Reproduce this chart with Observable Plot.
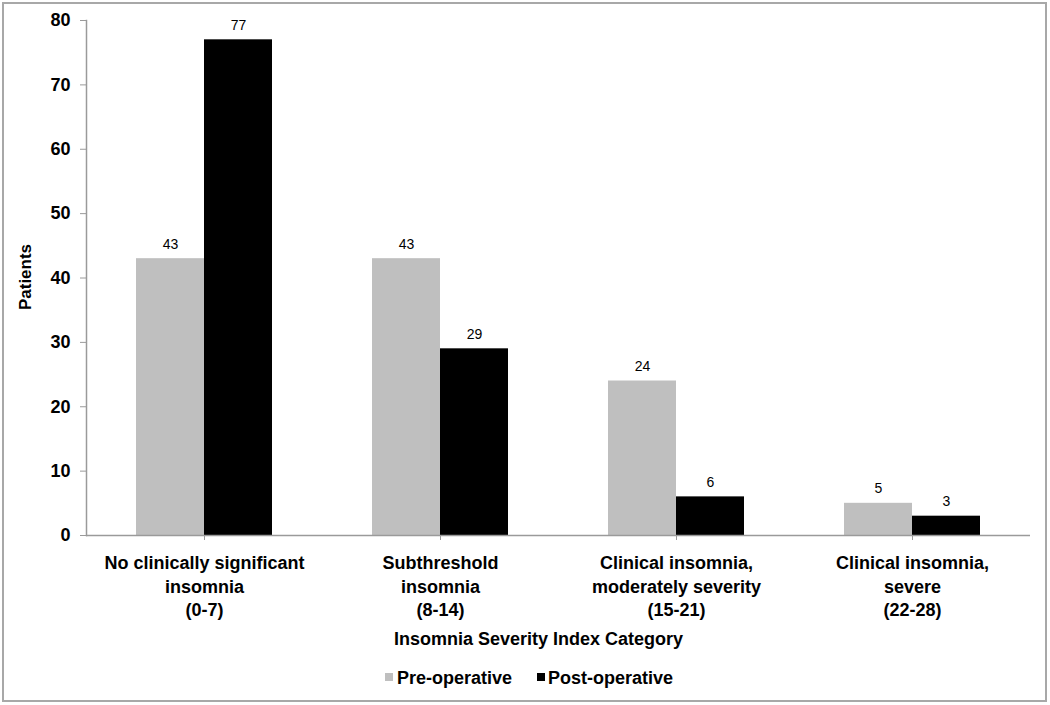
<!DOCTYPE html>
<html>
<head>
<meta charset="utf-8">
<script src="https://cdn.jsdelivr.net/npm/d3@7"></script>
<script src="https://cdn.jsdelivr.net/npm/@observablehq/plot@0.6"></script>
<style>
  html, body { margin: 0; padding: 0; background: #fff; }
  body { width: 1050px; height: 705px; position: relative; overflow: hidden;
         font-family: "Liberation Sans", Arial, sans-serif; }
  #frame { position: absolute; left: 2px; top: 2px; width: 1045px; height: 700px;
           box-sizing: border-box; border: 2px solid #a8a8a8; }
  #chart { position: absolute; left: 0; top: 0; }
  #ylabel { position: absolute; left: 26px; top: 277px; transform: translate(-50%, -50%) rotate(-90deg);
            font-weight: bold; font-size: 17px; white-space: nowrap; color: #000; }
  #xtitle { position: absolute; left: 394px; top: 629px; font-weight: bold; font-size: 18px; white-space: nowrap; }
  .lg { position: absolute; top: 668px; font-weight: bold; font-size: 18px; white-space: nowrap; line-height: 20px; }
  .sw { position: absolute; top: 673px; width: 8px; height: 8px; }
</style>
</head>
<body>
<div id="frame"></div>
<div id="chart"></div>
<div id="ylabel"></div>
<div id="xtitle"></div>
<div id="legend"></div>
<script>
// ---- data ----
const categories = ["No clinically significant", "Subthreshold", "Clinical insomnia, moderately", "Clinical insomnia, severe"];
const tickLabels = [
  "No clinically significant\ninsomnia\n(0-7)",
  "Subthreshold\ninsomnia\n(8-14)",
  "Clinical insomnia,\nmoderately severity\n(15-21)",
  "Clinical insomnia,\nsevere\n(22-28)"
];
const seriesNames = ["Pre-operative", "Post-operative"];
const preOperative = [43, 43, 24, 5];
const postOperative = [77, 29, 6, 3];
const yTicks = [0, 10, 20, 30, 40, 50, 60, 70, 80];
const seriesColors = ["#bfbfbf", "#000000"];
const yLabel = "Patients";
const xTitle = "Insomnia Severity Index Category";

// ---- build rows ----
const preRows = categories.map((c, i) => ({category: c, series: seriesNames[0], value: preOperative[i]}));
const postRows = categories.map((c, i) => ({category: c, series: seriesNames[1], value: postOperative[i]}));
const labelOf = new Map(categories.map((c, i) => [c, tickLabels[i]]));

const W = 1050, H = 620;
const mL = 86, mR = 20, mT = 20, mB = 85;
const bw = (W - mL - mR) / categories.length; // band width
const barW = 68;
const outer = bw / 2 - barW;

const chart = Plot.plot({
  width: W, height: H,
  marginLeft: mL, marginRight: mR, marginTop: mT, marginBottom: mB,
  style: {fontFamily: "'Liberation Sans', Arial, sans-serif", color: "#000", background: "transparent"},
  x: {domain: categories, padding: 0, label: null},
  y: {domain: [0, 80], label: null},
  marks: [
    Plot.barY(preRows, {x: "category", y: "value", fill: seriesColors[0], insetLeft: outer, insetRight: bw / 2}),
    Plot.barY(postRows, {x: "category", y: "value", fill: seriesColors[1], insetLeft: bw / 2, insetRight: outer}),
    Plot.text(preRows, {x: "category", y: "value", text: d => String(d.value), dx: -barW / 2, dy: -10, lineAnchor: "bottom", fontSize: 14, fill: "#000"}),
    Plot.text(postRows, {x: "category", y: "value", text: d => String(d.value), dx: barW / 2, dy: -10, lineAnchor: "bottom", fontSize: 14, fill: "#000"}),
    Plot.ruleY([0], {stroke: "#9a9a9a", strokeWidth: 1.5}),
    Plot.frame({anchor: "left", stroke: "#9a9a9a", strokeWidth: 1.5}),
    Plot.axisY({ticks: yTicks, tickSize: 6, tickPadding: 10, fontSize: 18, fontWeight: "bold", stroke: "#9a9a9a", fill: "#000", label: null}),
    Plot.axisX({tickSize: 5, tickPadding: 12, fontSize: 18, fontWeight: "bold", lineHeight: 1.3, stroke: "#9a9a9a", fill: "#000",
                tickFormat: d => labelOf.get(d), label: null})
  ]
});
document.getElementById("chart").appendChild(chart);

document.getElementById("ylabel").textContent = yLabel;
document.getElementById("xtitle").textContent = xTitle;

// legend
const legend = document.getElementById("legend");
const swX = [385, 537], txX = [397, 548];
seriesNames.forEach((name, i) => {
  const sw = document.createElement("div");
  sw.className = "sw"; sw.style.left = swX[i] + "px"; sw.style.background = seriesColors[i];
  legend.appendChild(sw);
  const t = document.createElement("div");
  t.className = "lg"; t.style.left = txX[i] + "px"; t.textContent = name;
  legend.appendChild(t);
});
</script>
</body>
</html>
